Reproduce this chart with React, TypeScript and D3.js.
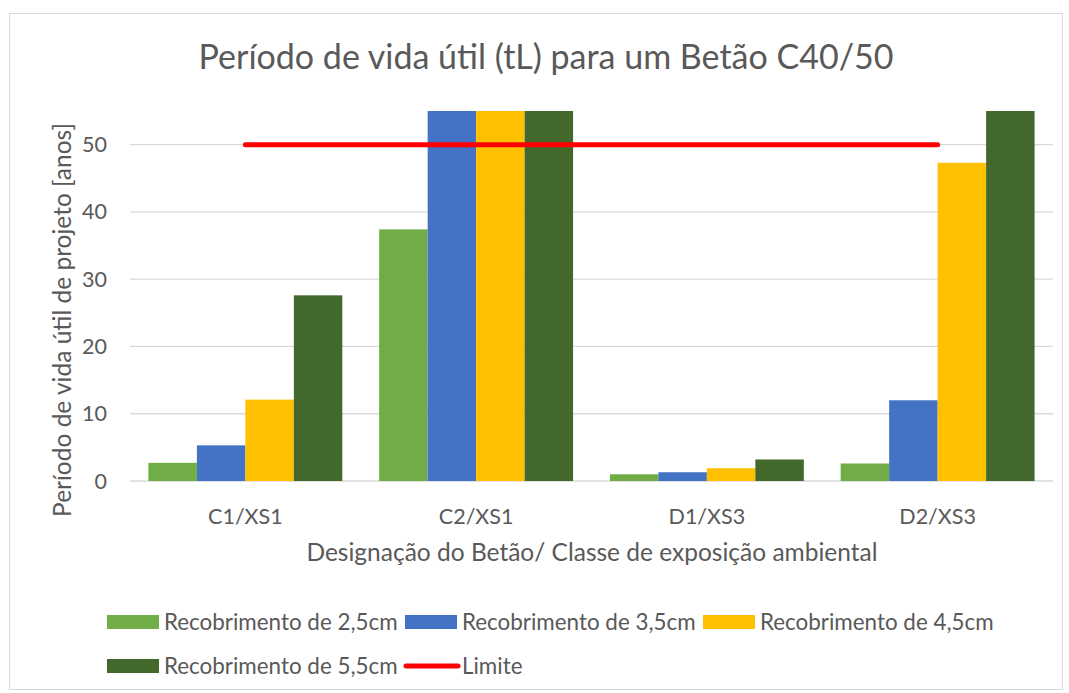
import React from "react";
import * as d3 from "d3";

const categories = ["C1/XS1", "C2/XS1", "D1/XS3", "D2/XS3"];
const seriesNames = [
  "Recobrimento de 2,5cm",
  "Recobrimento de 3,5cm",
  "Recobrimento de 4,5cm",
  "Recobrimento de 5,5cm",
];
const cover25 = [2.7, 37.4, 1.0, 2.6];
const cover35 = [5.3, 70, 1.3, 12.0];
const cover45 = [12.1, 100, 1.9, 47.3];
const cover55 = [27.6, 130, 3.2, 80];
const limite = [50, 50, 50, 50];
const yTicks = [0, 10, 20, 30, 40, 50];
const seriesColors = ["#70AD47", "#4472C4", "#FFC000", "#43682B"];

const W = 1069;
const H = 693;
const FONT = "Lato, 'Open Sans', sans-serif";
const TXT = "#595959";

export default function App() {
  const seriesValues = [cover25, cover35, cover45, cover55];
  const left = 130, right = 1053, top = 111, bottom = 481;
  const y = d3.scaleLinear().domain([0, 55]).range([bottom, top]);
  const x0 = d3.scaleBand<string>().domain(categories).range([left, right]).padding(0);
  const band = x0.bandwidth();
  const barW = band / (4 + 0.76);
  const gap = band - 4 * barW;
  const x1 = d3
    .scaleBand<number>()
    .domain([0, 1, 2, 3])
    .range([gap / 2, band - gap / 2])
    .padding(0);
  const line = d3
    .line<number>()
    .x((_, i) => (x0(categories[i]) as number) + band / 2)
    .y((v) => y(v));

  const legendRow1 = [
    { kind: "rect", color: seriesColors[0], label: seriesNames[0], x: 107 },
    { kind: "rect", color: seriesColors[1], label: seriesNames[1], x: 405 },
    { kind: "rect", color: seriesColors[2], label: seriesNames[2], x: 703 },
  ];
  const legendRow2 = [
    { kind: "rect", color: seriesColors[3], label: seriesNames[3], x: 107 },
    { kind: "line", color: "#FF0000", label: "Limite", x: 405 },
  ];

  return (
    <svg width={W} height={H} style={{ position: "absolute", left: 0, top: 0 }} fontFamily={FONT}>
      <rect x={0} y={0} width={W} height={H} fill="#fff" />
      <rect x={9.5} y={13.5} width={1053} height={676} fill="#fff" stroke="#d9d9d9" strokeWidth={1} />
      <defs>
        <clipPath id="plotClip">
          <rect x={left} y={top} width={right - left} height={bottom - top + 2} />
        </clipPath>
      </defs>
      <text x={546} y={69} textAnchor="middle" fontSize={34} fill={TXT}>
        Período de vida útil (tL) para um Betão C40/50
      </text>
      {yTicks.map((t) => (
        <g key={t}>
          <line x1={left} x2={right} y1={y(t)} y2={y(t)} stroke="#d9d9d9" strokeWidth={1.3} />
          <text x={107} y={y(t)} dy="0.35em" textAnchor="end" fontSize={21.5} fill={TXT}>
            {t}
          </text>
        </g>
      ))}
      <g clipPath="url(#plotClip)">
        {categories.map((c, ci) => (
          <g key={c} transform={`translate(${x0(c)},0)`}>
            {seriesValues.map((vals, si) => (
              <rect
                key={si}
                x={x1(si)}
                width={x1.bandwidth()}
                y={y(vals[ci])}
                height={y(0) - y(vals[ci])}
                fill={seriesColors[si]}
              />
            ))}
          </g>
        ))}
      </g>
      <path d={line(limite) || ""} fill="none" stroke="#FF0000" strokeWidth={5} strokeLinecap="round" />
      {categories.map((c) => (
        <text key={c} x={(x0(c) as number) + band / 2} y={516} dy="0.35em" textAnchor="middle" fontSize={21.5} fill={TXT}>
          {c}
        </text>
      ))}
      <text x={592} y={561} textAnchor="middle" fontSize={24.5} fill={TXT}>
        Designação do Betão/ Classe de exposição ambiental
      </text>
      <text
        transform={`translate(62,320) rotate(-90)`}
        dy="0.35em"
        textAnchor="middle"
        fontSize={24.5}
        fill={TXT}
      >
        Período de vida útil de projeto [anos]
      </text>
      {[legendRow1, legendRow2].map((row, ri) =>
        row.map((it) => {
          const cy = ri === 0 ? 622 : 666;
          return (
            <g key={it.label}>
              {it.kind === "rect" ? (
                <rect x={it.x} y={cy - 7} width={52} height={14} fill={it.color} />
              ) : (
                <line x1={it.x + 1} x2={it.x + 53} y1={cy} y2={cy} stroke={it.color} strokeWidth={5} strokeLinecap="round" />
              )}
              <text x={it.x + 57} y={cy} dy="0.35em" fontSize={22.4} fill={TXT}>
                {it.label}
              </text>
            </g>
          );
        })
      )}
    </svg>
  );
}
